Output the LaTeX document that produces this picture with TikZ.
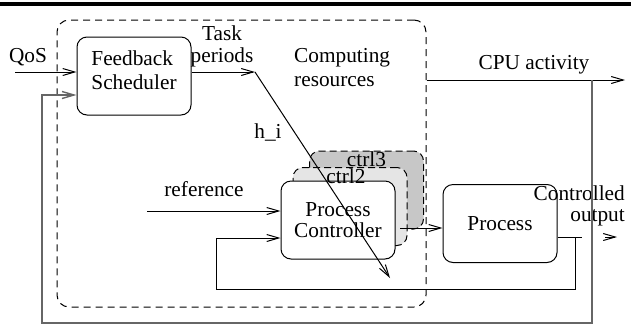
\documentclass[tikz,border=0pt]{standalone}
\usepackage{fontspec}
\setmainfont{Liberation Serif}
\usetikzlibrary{arrows.meta}

\tikzset{
  blk/.style={draw, rounded corners=10pt, minimum width=114pt, minimum height=78pt, inner sep=0pt, align=center, line width=1pt},
  ctrlbox/.style={blk, dash pattern=on 7pt off 4pt},
  conn/.style={line width=1pt, -{Straight Barb[length=12pt,width=7pt]}},
  wire/.style={line width=1pt},
  fbloop/.style={line width=1.4pt, draw=black!60, -{Straight Barb[length=12pt,width=7pt]}},
  lbl/.style={inner sep=0pt, align=center},
}

\begin{document}
\begin{tikzpicture}[x=1pt,y=1pt,yscale=-1,xscale=1,font=\fontsize{21.3}{24}\selectfont]
\useasboundingbox (0,0) rectangle (631,325);
% top rule
\draw[line width=3.3pt] (0,4) -- (631,4);
% computing resources
\node[draw, dash pattern=on 7pt off 5pt, rounded corners=12pt, minimum width=369pt, minimum height=287pt, line width=1pt] (res) at (241.5,163.5) {};
% blocks
\node[blk, align=left, text depth=12pt] (fb) at (134,76) {Feedback\\Scheduler};
\node[ctrlbox, fill=black!22] (c3) at (366.5,190) {};
\node[ctrlbox, fill=black!10] (c2) at (350,206.5) {};
\node[blk, fill=white, font=\fontsize{21.3}{21}\selectfont] (pc) at (338,220) {Process\\Controller};
\node[blk] (proc) at (500,223.5) {Process};
\node[lbl, anchor=north, inner sep=1pt] (c3lbl) at (c3.north) {ctrl3};
\node[lbl, anchor=north, inner sep=2pt] (c2lbl) at ([xshift=-4pt]c2.north) {ctrl2};

% Text Node
\node[lbl] (qos) at (28,57) {QoS};
\node[lbl, font=\fontsize{21.3}{22}\selectfont] (task) at (222,46) {Task\\periods};
\node[lbl, align=left, anchor=west] (comp) at (294,68) {Computing\\resources};
\node[lbl] (hi) at (268,132) {h\_i};
\node[lbl] (ref) at (204,189) {reference};
\node[lbl] (cpu) at (534,65) {CPU activity};
\node[lbl, align=right, anchor=east, font=\fontsize{21.3}{21}\selectfont] (cout) at (625,206) {Controlled\\output};

% connectors
\coordinate (qosin) at (15,72);
\coordinate (tp) at (255,72);
\coordinate (hiend) at (390,278);
\coordinate (refin) at (147,211);
\coordinate (pp) at (400,228);
\coordinate (outtap) at (575,237);
\coordinate (outend) at (582,237);
\coordinate (outhead) at (617,237);
\coordinate (fbk) at (216,238);
\coordinate (cpuend) at (625,80);
\coordinate (cputap) at (592,80);
\coordinate (lowr) at (592,323);
\coordinate (fbin) at (42,95);

\draw[conn] (qosin) -- (qosin -| fb.west);
\draw[conn] (fb.east |- tp) -- (tp);
\draw[conn] (refin) -- (refin -| pc.west);
\draw[conn] (pp) -- (pp -| proc.west);
\draw[wire] (proc.east |- outtap) -- (outend);
\draw[conn] (outtap) -- (575,289) -| (fbk) -- (fbk -| pc.west);
\draw[conn] ([xshift=-12pt]outhead) -- (outhead);
\draw[conn] (res.east |- cpuend) -- (cpuend);
\draw[fbloop] (cputap) -- (lowr) -| (fbin) -- (fbin -| fb.west);
\draw[conn] (tp) -- (hiend);
\end{tikzpicture}
\end{document}
